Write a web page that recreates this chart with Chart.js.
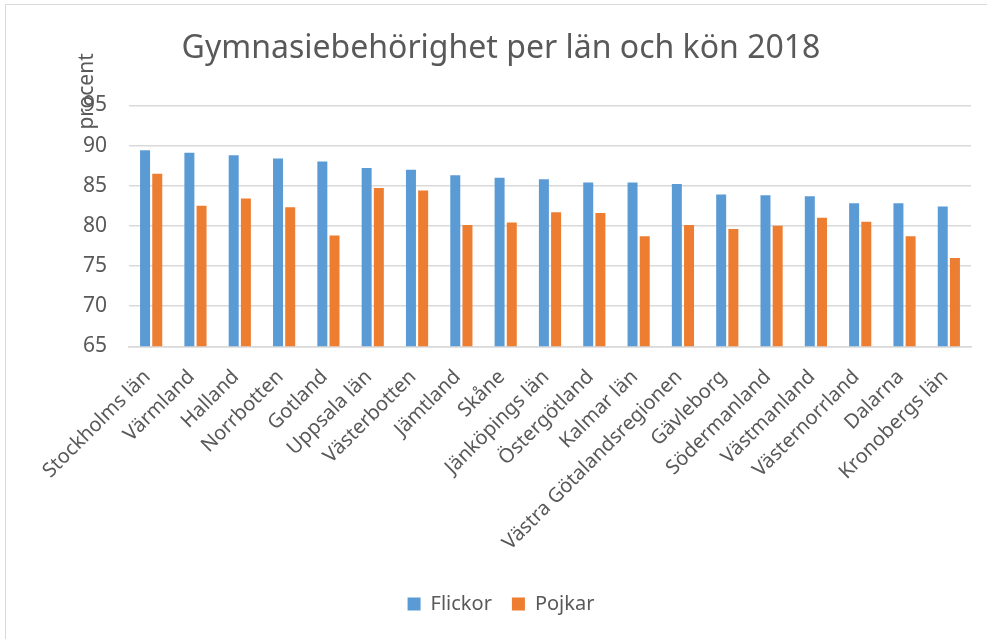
<!DOCTYPE html>
<html>
<head>
<meta charset="utf-8">
<script src="https://cdn.jsdelivr.net/npm/chart.js@4/dist/chart.umd.min.js"></script>
<style>
  html, body { margin: 0; padding: 0; background: #fff; }
  #wrap {
    position: absolute; left: 5px; top: 4px; width: 990px; height: 640px;
    border-left: 1px solid #d9d9d9; border-top: 1px solid #d9d9d9;
  }
  #box { position: absolute; left: 0; top: 0; width: 982px; height: 634px; }
</style>
</head>
<body>
<div id="wrap"><div id="box"><canvas id="chart"></canvas></div></div>
<script>
// Gymnasiebehörighet per län och kön 2018
const LAN = [
  'Stockholms län', 'Värmland', 'Halland', 'Norrbotten', 'Gotland',
  'Uppsala län', 'Västerbotten', 'Jämtland', 'Skåne', 'Jänköpings län',
  'Östergötland', 'Kalmar län', 'Västra Götalandsregionen', 'Gävleborg',
  'Södermanland', 'Västmanland', 'Västernorrland', 'Dalarna', 'Kronobergs län'
];
const FLICKOR = [89.4, 89.1, 88.8, 88.4, 88.0, 87.2, 87.0, 86.3, 86.0, 85.8,
                 85.4, 85.4, 85.2, 83.9, 83.8, 83.7, 82.8, 82.8, 82.4];
const POJKAR  = [86.5, 82.5, 83.4, 82.3, 78.8, 84.7, 84.4, 80.1, 80.4, 81.7,
                 81.6, 78.7, 80.1, 79.6, 80.0, 81.0, 80.5, 78.7, 76.0];
const Y_MIN = 65, Y_MAX = 95, Y_STEP = 5;

const TEXT = '#595959';
const FONT = 'Noto Sans';

// y-axis title sits above the plot, overlapping the top tick like the original
const axisTitle = {
  id: 'axisTitle',
  afterDraw(chart) {
    const { ctx, chartArea } = chart;
    ctx.save();
    ctx.translate(chartArea.left - 42, chartArea.top - 14);
    ctx.rotate(-Math.PI / 2);
    ctx.fillStyle = TEXT;
    ctx.font = '21px ' + FONT;
    ctx.textAlign = 'center';
    ctx.textBaseline = 'middle';
    ctx.fillText('procent', 0, 0);
    ctx.restore();
  }
};

new Chart(document.getElementById('chart'), {
  type: 'bar',
  data: {
    labels: LAN,
    datasets: [
      { label: 'Flickor', data: FLICKOR, backgroundColor: '#5b9bd5',
        categoryPercentage: 0.55, barPercentage: 0.82 },
      { label: 'Pojkar', data: POJKAR, backgroundColor: '#ed7d31',
        categoryPercentage: 0.55, barPercentage: 0.82 },
    ],
  },
  options: {
    responsive: true,
    maintainAspectRatio: false,
    animation: false,
    layout: { padding: { left: 25, right: 17, top: 0, bottom: 15 } },
    plugins: {
      title: {
        display: true,
        text: 'Gymnasiebehörighet per län och kön 2018',
        color: TEXT,
        font: { family: FONT, size: 32, weight: 'normal' },
        padding: { top: 25, bottom: 37 },
      },
      legend: {
        position: 'bottom',
        labels: {
          color: TEXT, boxWidth: 13, boxHeight: 13, padding: 20,
          font: { family: FONT, size: 20 },
        },
      },
      tooltip: { enabled: false },
    },
    scales: {
      x: {
        grid: { display: false, drawTicks: false },
        border: { color: '#d9d9d9', width: 1.5 },
        ticks: {
          color: TEXT, minRotation: 45, maxRotation: 45, padding: 19,
          labelOffset: -4,
          font: { family: FONT, size: 20 },
        },
      },
      y: {
        min: Y_MIN, max: Y_MAX,
        afterFit: s => { s.width = 98; },
        grid: { color: '#d9d9d9', lineWidth: 1.5, drawTicks: false },
        border: { display: false },
        ticks: {
          stepSize: Y_STEP, color: TEXT, padding: 22,
          font: { family: FONT, size: 21 },
        },
      },
    },
  },
  plugins: [axisTitle],
});
</script>
</body>
</html>
